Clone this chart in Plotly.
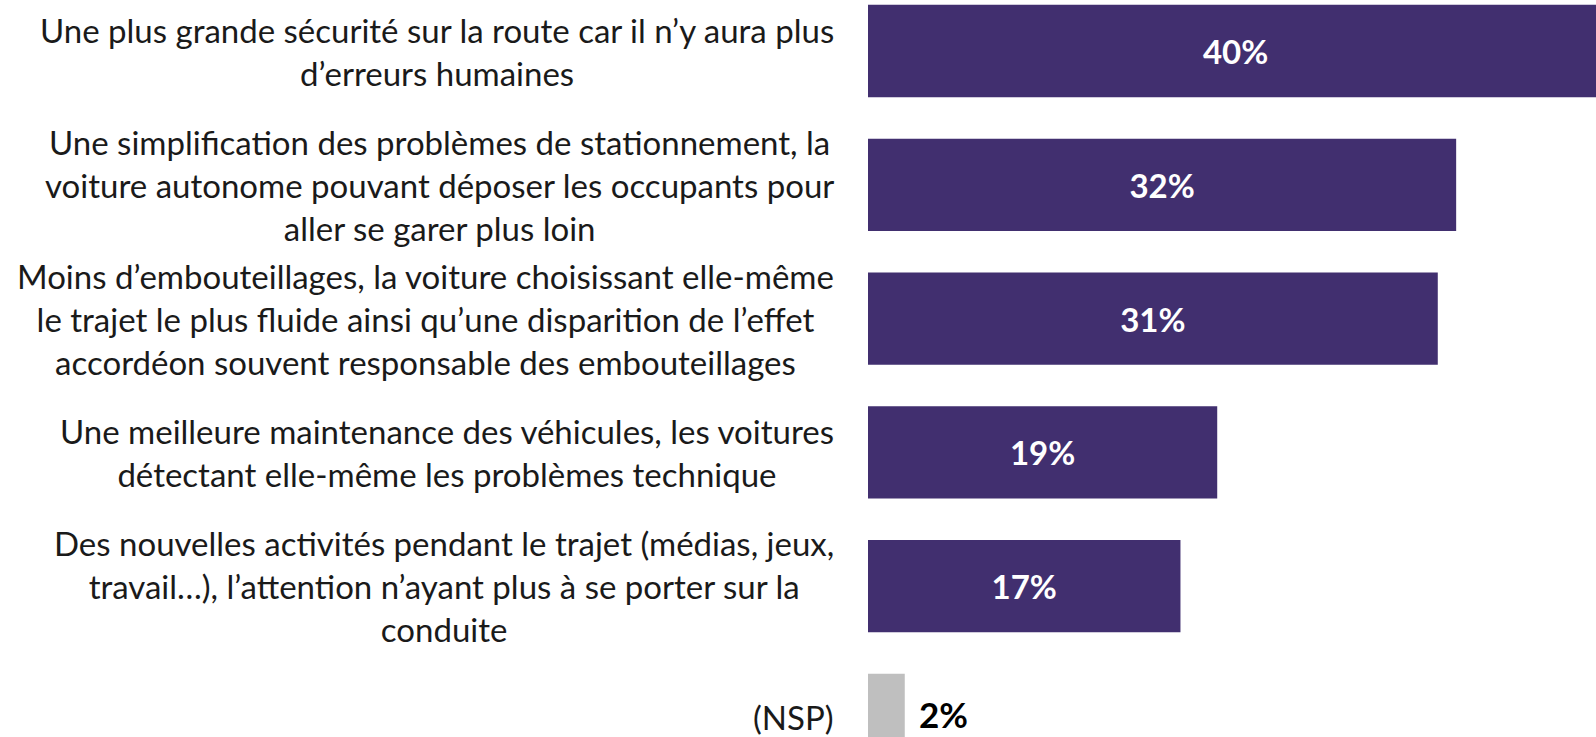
import plotly.graph_objects as go

categories = [
    "Une plus grande sécurité sur la route car il n’y aura plus<br>d’erreurs humaines",
    "Une simplification des problèmes de stationnement, la<br>voiture autonome pouvant déposer les occupants pour<br>aller se garer plus loin",
    "Moins d’embouteillages, la voiture choisissant elle-même<br>le trajet le plus fluide ainsi qu’une disparition de l’effet<br>accordéon souvent responsable des embouteillages",
    "Une meilleure maintenance des véhicules, les voitures<br>détectant elle-même les problèmes technique",
    "Des nouvelles activités pendant le trajet (médias, jeux,<br>travail…), l’attention n’ayant plus à se porter sur la<br>conduite",
    "(NSP)",
]
values = [40, 32, 31, 19, 17, 2]

PURPLE = "#412F6F"
GREY = "#BFBFBF"
bar_colors = [PURPLE] * 5 + [GREY]
inside_label = [True] * 5 + [False]

W, H = 1596, 737
LEFT = 868
PX_PER_UNIT = 18.38
FONT = "Lato"
PLOT_W = W - LEFT

fig = go.Figure(
    go.Bar(
        x=values,
        y=list(range(len(categories))),
        orientation="h",
        marker=dict(color=bar_colors, line=dict(width=0)),
        text=[f"{v}%" if ins else "" for v, ins in zip(values, inside_label)],
        textposition="inside",
        insidetextanchor="middle",
        textangle=0,
        constraintext="none",
        cliponaxis=True,
        insidetextfont=dict(family=FONT, size=33, color="white", weight="bold"),
        hoverinfo="skip",
    )
)

label_right = 836
annotations = []
for i, lab in enumerate(categories):
    annotations.append(
        dict(
            x=(label_right - LEFT) / PLOT_W,
            xref="paper",
            y=i,
            yref="y",
            yshift=3 if lab == "(NSP)" else 0,
            text=lab,
            xanchor="right",
            yanchor="middle",
            align="center",
            showarrow=False,
            font=dict(family=FONT, size=33, color="#1a1a1a"),
        )
    )
# value labels placed outside the bar (small bars)
for i, (v, ins) in enumerate(zip(values, inside_label)):
    if not ins:
        annotations.append(
            dict(
                x=v,
                xref="x",
                y=i,
                yref="y",
                xanchor="left",
                yanchor="middle",
                xshift=13,
                yshift=6,
                text=f"<b>{v}%</b>",
                showarrow=False,
                borderpad=0,
                font=dict(family=FONT, size=35, color="black"),
            )
        )

STEP = 133.8
first_center = 51
y_top = -first_center / STEP
y_bot = (H - first_center) / STEP

fig.update_layout(
    width=W,
    height=H,
    margin=dict(l=LEFT, r=0, t=0, b=0),
    paper_bgcolor="white",
    plot_bgcolor="white",
    bargap=0.31,
    showlegend=False,
    xaxis=dict(range=[0, PLOT_W / PX_PER_UNIT], visible=False),
    yaxis=dict(range=[y_bot, y_top], visible=False),
    annotations=annotations,
)

fig.write_html(
    "out.html",
    config={"displayModeBar": False},
    post_script="document.body.style.margin='0';document.body.style.overflow='hidden';",
)
